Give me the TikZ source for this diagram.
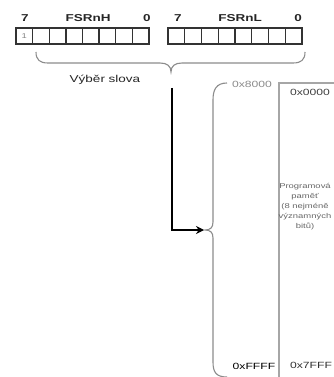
\documentclass[tikz,border=0pt]{standalone}
\usepackage{graphicx}
\usepackage{fontspec}
\setmainfont{Liberation Sans}
\usetikzlibrary{arrows.meta}
\newcommand{\widetxt}[1]{\scalebox{1.35}[1]{#1}}
\begin{document}
\begin{tikzpicture}[x=1pt,y=-1pt,
  cell/.style={draw=black!80, line width=1.2pt, minimum width=16.7pt, minimum height=16pt, inner sep=0pt, outer sep=0pt},
  reglabel/.style={font=\fontsize{10}{12}\selectfont\bfseries, text=black!85, inner sep=0pt},
  hexlabel/.style={font=\fontsize{9}{10}\selectfont, inner sep=0pt},
  memtext/.style={font=\fontsize{7}{10}\selectfont, text=black!60, inner sep=0pt, align=center},
  bracestyle/.style={draw=black!45, line width=1.1pt},
  memline/.style={draw=black!35, line width=1.5pt},
  arrowline/.style={draw=black, line width=1.8pt, -{Stealth[length=8pt,width=8pt]}},
]
\clip (0,0) rectangle (334,377);
\fill[white] (0,0) rectangle (334,377);

% register cells
\foreach \i in {0,...,7} {
  \node[cell] (h\i) at ({16+16.625*(\i+0.5)},36) {};
  \node[cell] (l\i) at ({168+16.75*(\i+0.5)},36) {};
}
\node[font=\fontsize{7}{8}\selectfont, text=black!50, inner sep=0pt] (one) at (h0) {\widetxt{1}};

% register labels
\node[reglabel] (h7) at (25,18) {\widetxt{7}};
\node[reglabel] (hname) at (88,18) {\widetxt{FSRnH}};
\node[reglabel] (hz) at (147,18) {\widetxt{0}};
\node[reglabel] (l7) at (178,18) {\widetxt{7}};
\node[reglabel] (lname) at (240,18) {\widetxt{FSRnL}};
\node[reglabel] (lz) at (298,18) {\widetxt{0}};

% top brace
\coordinate (tb1) at (36,52);
\coordinate (tb2) at (305,52);
\coordinate (tbtip) at (171,72);
\draw[bracestyle] (tb1) .. controls (36,60) and (40,63) .. (48,63) -- (160,63)
  .. controls (167,63) and (171,66) .. (tbtip)
  .. controls (171,66) and (175,63) .. (182,63) -- (293,63)
  .. controls (301,63) and (305,60) .. (tb2);
\node[font=\fontsize{10}{12}\selectfont, text=black!85, inner sep=0pt] (sel) at (105,80) {\widetxt{Výběr slova}};

% right brace
\coordinate (rb1) at (227,83);
\coordinate (rb2) at (227,377);
\coordinate (rbtip) at (205,230);
\draw[bracestyle] (rb1) .. controls (216,83) and (213,90) .. (213,100) -- (213,222)
  .. controls (213,228) and (210,230) .. (rbtip)
  .. controls (210,230) and (213,232) .. (213,238) -- (213,362)
  .. controls (213,372) and (216,377) .. (rb2);

% arrow
\coordinate (src) at (172,88);
\coordinate (dst) at (204,230);
\draw[arrowline] (src) |- (dst);

% memory block
\coordinate (mtr) at (334,83);
\coordinate (mbl) at (279,377);
\draw[memline] (mtr) -| (mbl);

\node[hexlabel, text=black!45] (a8000) at (252,84) {\widetxt{0x8000}};
\node[hexlabel, text=black!75] (a0000) at (310,92) {\widetxt{0x0000}};
\node[hexlabel, text=black] (affff) at (254,366) {\widetxt{0xFFFF}};
\node[hexlabel, text=black!80] (a7fff) at (311,365) {\widetxt{0x7FFF}};

\node[memtext] (mem) at (305,207) {\widetxt{Programová}\\\widetxt{paměť}\\\widetxt{(8 nejméně}\\\widetxt{významných}\\\widetxt{bitů)}};
\end{tikzpicture}
\end{document}
